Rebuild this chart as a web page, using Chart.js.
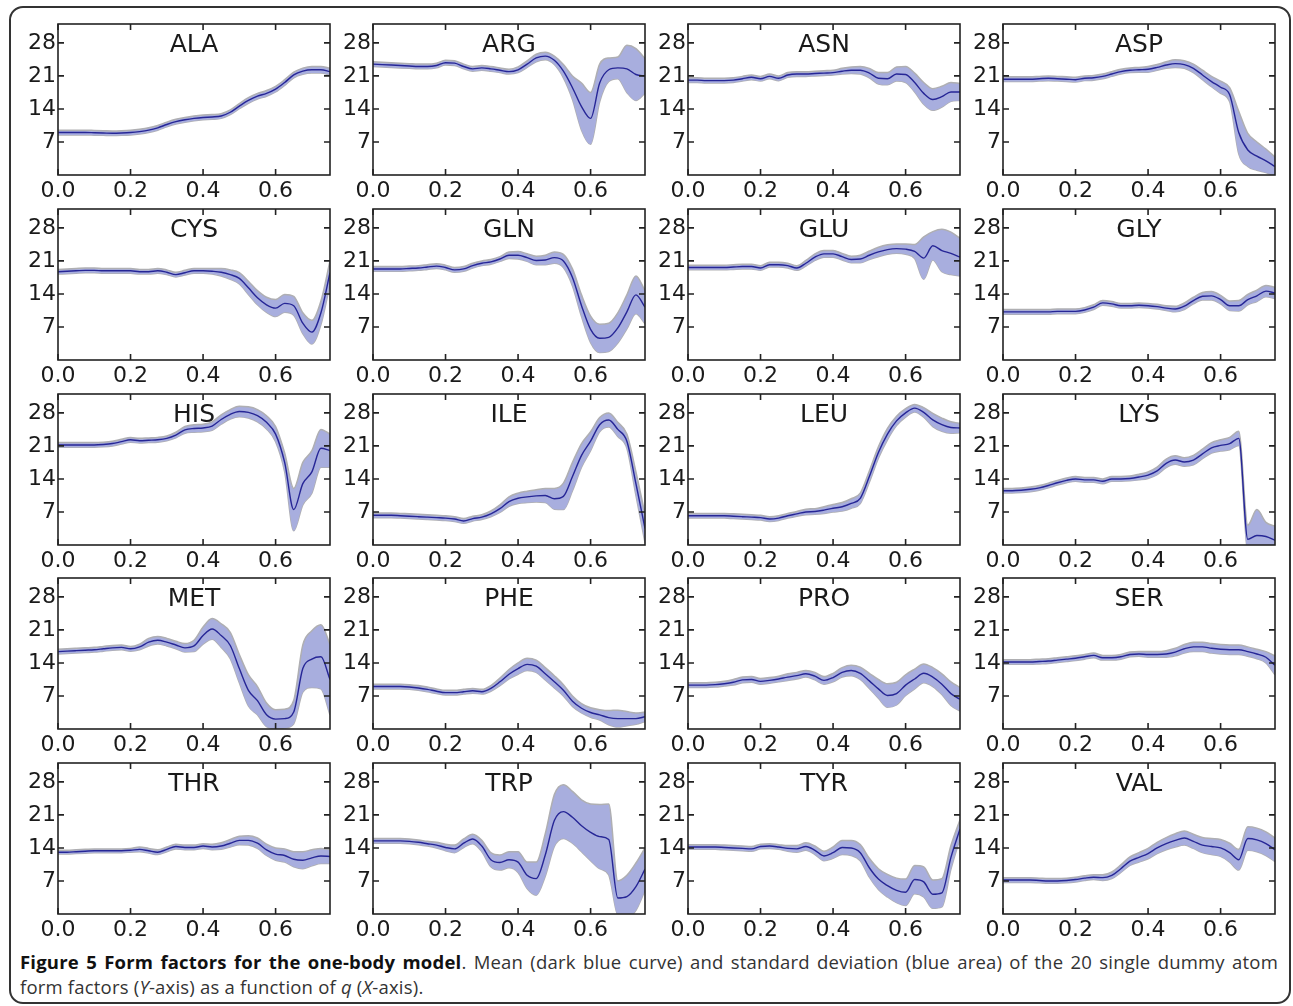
<!DOCTYPE html>
<html>
<head>
<meta charset="utf-8">
<title>Form factors for the one-body model</title>
<script src="https://cdn.jsdelivr.net/npm/chart.js@4.4.1/dist/chart.umd.min.js"></script>
<style>
    body { margin: 0; background: #fff; width: 1293px; height: 1006px; overflow: hidden; position: relative; }
    #frame { position: absolute; left: 9px; top: 6px; width: 1278px; height: 994px; border: 2px solid #333; border-radius: 14px; }
    .panel { position: absolute; }
    #caption { position: absolute; left: 20px; top: 949px; width: 1258px; font-family: "Open Sans", sans-serif; font-size: 18.5px; letter-spacing: 0.2px; line-height: 25px; color: #333; }
    #caption .line1 { text-align: justify; text-align-last: justify; }
    #caption b { color: #111; }
</style>
</head>
<body>
<div id="frame"></div>
<div id="panels"></div>
<div id="caption">
    <div class="line1"><b>Figure 5 Form factors for the one-body model</b>. Mean (dark blue curve) and standard deviation (blue area) of the 20 single dummy atom</div>
    <div>form factors (<i>Y</i>-axis) as a function of <i>q</i> (<i>X</i>-axis).</div>
</div>
<script>
// q grid shared by all panels
const qValues = [0, 0.025, 0.05, 0.075, 0.1, 0.125, 0.15, 0.175, 0.2, 0.225, 0.25, 0.275, 0.3, 0.325, 0.35, 0.375,
    0.4, 0.425, 0.45, 0.475, 0.5, 0.525, 0.55, 0.575, 0.6, 0.625, 0.65, 0.675, 0.7, 0.725, 0.75];
const xTickValues = [0, 0.2, 0.4, 0.6];
const yTickValues = [7, 14, 21, 28];
const residues = ['ALA', 'ARG', 'ASN', 'ASP', 'CYS', 'GLN', 'GLU', 'GLY', 'HIS', 'ILE',
    'LEU', 'LYS', 'MET', 'PHE', 'PRO', 'SER', 'THR', 'TRP', 'TYR', 'VAL'];

// mean form factor and standard deviation
const alaMean = [9.0, 9.0, 9.0, 9.0, 8.95, 8.9, 8.85, 8.9, 9.0, 9.2, 9.5, 10.0, 10.7, 11.3, 11.7, 12.0, 12.2, 12.3, 12.5, 13.3, 14.6, 15.8, 16.7, 17.3, 18.2, 19.6, 21.2, 22.0, 22.3, 22.3, 21.9];
const alaSd = [0.5, 0.5, 0.5, 0.5, 0.5, 0.5, 0.5, 0.5, 0.5, 0.5, 0.5, 0.5, 0.5, 0.5, 0.5, 0.5, 0.5, 0.5, 0.5, 0.5, 0.55, 0.6, 0.6, 0.6, 0.6, 0.6, 0.6, 0.65, 0.7, 0.7, 0.7];
const argMean = [23.5, 23.4, 23.3, 23.2, 23.1, 23.0, 23.0, 23.2, 23.8, 23.7, 23.0, 22.5, 22.7, 22.5, 22.2, 21.9, 22.3, 23.5, 24.8, 25.2, 24.3, 22.0, 18.5, 14.5, 12.0, 19.5, 22.3, 22.7, 22.5, 21.3, 21.0];
const argSd = [0.5, 0.5, 0.5, 0.5, 0.5, 0.5, 0.5, 0.5, 0.5, 0.5, 0.5, 0.5, 0.5, 0.5, 0.5, 0.5, 0.6, 0.7, 0.8, 0.8, 0.9, 1.4, 2.5, 5.0, 5.5, 4.0, 2.5, 2.3, 5.0, 5.5, 3.7];
const asnMean = [20.1, 20.1, 20.0, 20.0, 20.0, 20.1, 20.4, 20.7, 20.4, 20.9, 20.5, 21.2, 21.4, 21.4, 21.5, 21.6, 21.7, 22.0, 22.2, 22.2, 21.6, 20.5, 20.4, 21.4, 21.3, 19.6, 17.3, 16.0, 16.6, 17.6, 17.6];
const asnSd = [0.5, 0.5, 0.5, 0.5, 0.5, 0.5, 0.5, 0.5, 0.5, 0.5, 0.5, 0.5, 0.5, 0.5, 0.5, 0.5, 0.5, 0.6, 0.7, 0.8, 1.0, 1.2, 1.3, 1.5, 1.7, 2.0, 2.3, 2.3, 2.2, 2.0, 1.8];
const aspMean = [20.3, 20.3, 20.3, 20.3, 20.4, 20.5, 20.4, 20.3, 20.2, 20.5, 20.6, 20.9, 21.4, 21.9, 22.2, 22.3, 22.4, 22.8, 23.3, 23.6, 23.4, 22.6, 21.2, 19.8, 18.6, 17.0, 9.0, 5.3, 4.0, 3.0, 1.8];
const aspSd = [0.5, 0.5, 0.5, 0.5, 0.5, 0.5, 0.5, 0.5, 0.5, 0.5, 0.5, 0.5, 0.5, 0.5, 0.5, 0.5, 0.6, 0.6, 0.7, 0.8, 0.8, 0.9, 1.0, 1.1, 1.3, 1.5, 4.5, 3.5, 3.0, 2.5, 2.0];
const cysMean = [18.7, 18.8, 18.9, 19.0, 19.0, 18.9, 18.9, 18.9, 18.9, 18.7, 18.7, 18.9, 18.6, 18.1, 18.5, 18.9, 18.9, 18.8, 18.6, 18.1, 17.3, 15.3, 13.2, 11.7, 11.0, 12.0, 11.5, 7.8, 5.9, 10.0, 18.5];
const cysSd = [0.5, 0.5, 0.5, 0.5, 0.5, 0.5, 0.5, 0.5, 0.5, 0.5, 0.5, 0.5, 0.5, 0.5, 0.5, 0.5, 0.5, 0.6, 0.8, 1.0, 1.2, 1.4, 1.5, 1.6, 1.8, 1.9, 2.0, 2.2, 2.5, 2.5, 2.5];
const glnMean = [19.3, 19.3, 19.3, 19.3, 19.4, 19.5, 19.7, 19.9, 19.6, 19.1, 19.3, 20.0, 20.5, 20.8, 21.4, 22.2, 22.2, 21.7, 21.1, 21.2, 21.7, 21.0, 17.5, 11.5, 6.5, 4.6, 4.8, 6.8, 10.2, 13.8, 11.2];
const glnSd = [0.5, 0.5, 0.5, 0.5, 0.5, 0.5, 0.5, 0.5, 0.5, 0.5, 0.5, 0.5, 0.5, 0.5, 0.5, 0.7, 0.8, 0.8, 0.9, 1.0, 1.2, 1.4, 1.8, 2.3, 2.8, 3.0, 3.0, 3.2, 3.6, 4.0, 3.5];
const gluMean = [19.6, 19.6, 19.6, 19.6, 19.6, 19.7, 19.8, 19.8, 19.5, 20.2, 20.2, 20.0, 19.5, 20.5, 21.8, 22.5, 22.5, 21.9, 21.3, 21.4, 22.2, 22.9, 23.4, 23.6, 23.5, 23.0, 21.6, 24.2, 23.2, 22.6, 21.8];
const gluSd = [0.5, 0.5, 0.5, 0.5, 0.5, 0.5, 0.5, 0.5, 0.5, 0.5, 0.5, 0.5, 0.5, 0.6, 0.7, 0.7, 0.7, 0.7, 0.7, 0.8, 0.9, 1.0, 1.0, 1.0, 1.1, 1.5, 4.5, 3.0, 4.5, 4.5, 4.0];
const glyMean = [10.2, 10.2, 10.2, 10.2, 10.2, 10.2, 10.3, 10.3, 10.3, 10.6, 11.2, 12.1, 11.9, 11.5, 11.5, 11.6, 11.5, 11.3, 11.0, 10.8, 11.4, 12.6, 13.5, 13.6, 12.8, 11.5, 11.5, 12.8, 13.6, 14.6, 14.2];
const glySd = [0.5, 0.5, 0.5, 0.5, 0.5, 0.5, 0.5, 0.5, 0.5, 0.5, 0.5, 0.5, 0.5, 0.5, 0.5, 0.5, 0.5, 0.5, 0.5, 0.6, 0.7, 0.7, 0.8, 0.9, 0.9, 1.0, 1.1, 1.1, 1.2, 1.2, 1.2];
const hisMean = [21.2, 21.2, 21.2, 21.2, 21.2, 21.3, 21.5, 21.9, 22.3, 22.1, 22.2, 22.3, 22.6, 23.3, 24.4, 24.7, 24.8, 25.2, 26.6, 27.7, 28.3, 28.1, 27.4, 26.0, 23.5, 17.5, 7.5, 13.0, 15.5, 20.5, 20.0];
const hisSd = [0.5, 0.5, 0.5, 0.5, 0.5, 0.5, 0.5, 0.5, 0.5, 0.5, 0.5, 0.5, 0.5, 0.6, 0.7, 0.8, 0.8, 0.9, 1.0, 1.0, 1.1, 1.2, 1.3, 1.4, 1.6, 2.0, 4.5, 4.5, 4.5, 4.0, 3.5];
const ileMean = [6.3, 6.3, 6.3, 6.2, 6.1, 6.0, 5.9, 5.8, 5.7, 5.5, 5.1, 5.6, 5.9, 6.6, 7.7, 9.2, 9.9, 10.2, 10.4, 10.5, 9.8, 10.3, 14.5, 19.0, 22.0, 25.5, 26.5, 24.5, 22.0, 13.0, 3.5];
const ileSd = [0.5, 0.5, 0.5, 0.5, 0.5, 0.5, 0.5, 0.5, 0.5, 0.5, 0.5, 0.5, 0.5, 0.6, 0.8, 1.0, 1.1, 1.2, 1.3, 1.5, 2.2, 2.8, 3.0, 2.5, 2.0, 1.5, 1.5, 1.5, 1.5, 2.5, 3.0];
const leuMean = [6.2, 6.2, 6.2, 6.2, 6.2, 6.1, 6.0, 5.9, 5.8, 5.5, 5.7, 6.2, 6.6, 7.0, 7.1, 7.4, 7.8, 8.1, 8.8, 9.9, 14.5, 19.6, 23.5, 26.3, 28.0, 29.0, 28.1, 26.5, 25.5, 24.9, 24.8];
const leuSd = [0.5, 0.5, 0.5, 0.5, 0.5, 0.5, 0.5, 0.5, 0.5, 0.5, 0.5, 0.5, 0.5, 0.6, 0.6, 0.7, 0.8, 0.9, 1.0, 1.1, 1.2, 1.2, 1.2, 1.0, 0.9, 0.8, 1.0, 1.4, 1.4, 1.2, 1.0];
const lysMean = [11.5, 11.5, 11.6, 11.8, 12.1, 12.6, 13.2, 13.7, 14.0, 13.8, 13.8, 13.5, 14.0, 14.0, 14.1, 14.4, 14.8, 15.7, 17.3, 18.0, 17.6, 18.0, 19.3, 20.6, 21.1, 21.5, 22.6, 1.2, 2.0, 1.8, 1.0];
const lysSd = [0.5, 0.5, 0.5, 0.5, 0.5, 0.5, 0.5, 0.5, 0.5, 0.5, 0.5, 0.5, 0.5, 0.5, 0.5, 0.6, 0.7, 0.8, 0.9, 0.9, 0.9, 1.0, 1.0, 1.1, 1.2, 1.3, 1.5, 3.0, 5.5, 3.0, 3.0];
const metMean = [16.4, 16.5, 16.6, 16.7, 16.8, 17.0, 17.2, 17.3, 17.0, 17.4, 18.4, 18.8, 18.4, 17.8, 17.2, 17.6, 19.8, 21.2, 19.8, 17.7, 12.8, 8.2, 6.0, 3.0, 2.1, 2.2, 3.6, 12.8, 14.8, 15.3, 10.5];
const metSd = [0.5, 0.5, 0.5, 0.5, 0.5, 0.5, 0.5, 0.5, 0.5, 0.6, 0.8, 0.8, 0.8, 0.8, 0.9, 1.2, 1.8, 2.2, 2.5, 2.8, 3.0, 3.3, 3.0, 2.5, 2.0, 2.0, 2.5, 5.0, 6.0, 6.8, 7.5];
const pheMean = [9.0, 9.0, 9.0, 9.0, 8.9, 8.7, 8.4, 8.0, 7.7, 7.7, 7.9, 8.1, 7.9, 8.6, 10.0, 11.6, 12.8, 13.7, 13.3, 11.7, 10.0, 8.2, 5.9, 4.4, 3.5, 3.0, 2.4, 2.2, 2.2, 2.2, 2.6];
const pheSd = [0.5, 0.5, 0.5, 0.5, 0.5, 0.5, 0.5, 0.5, 0.5, 0.5, 0.5, 0.5, 0.5, 0.6, 0.8, 1.0, 1.2, 1.3, 1.3, 1.3, 1.3, 1.2, 1.1, 1.0, 1.0, 1.1, 1.5, 1.8, 1.5, 1.2, 1.0];
const proMean = [9.3, 9.3, 9.3, 9.4, 9.6, 9.9, 10.4, 10.5, 10.1, 10.3, 10.6, 11.0, 11.3, 11.7, 11.2, 10.3, 10.9, 12.0, 12.4, 11.8, 10.2, 8.5, 7.1, 7.5, 9.3, 10.6, 11.8, 11.0, 9.5, 7.5, 6.3];
const proSd = [0.5, 0.5, 0.5, 0.5, 0.5, 0.6, 0.6, 0.6, 0.6, 0.6, 0.6, 0.7, 0.7, 0.7, 0.8, 0.8, 0.9, 1.0, 1.1, 1.3, 1.6, 2.0, 2.5, 2.4, 2.2, 2.1, 2.0, 2.0, 2.2, 2.5, 2.5];
const serMean = [14.2, 14.2, 14.2, 14.2, 14.3, 14.4, 14.6, 14.8, 15.0, 15.3, 15.6, 15.1, 15.1, 15.3, 15.8, 15.9, 15.8, 15.8, 15.9, 16.3, 17.0, 17.4, 17.4, 17.1, 16.9, 16.8, 16.8, 16.4, 15.9, 15.2, 13.5];
const serSd = [0.5, 0.5, 0.5, 0.5, 0.5, 0.5, 0.5, 0.5, 0.5, 0.5, 0.5, 0.5, 0.5, 0.5, 0.5, 0.5, 0.6, 0.6, 0.7, 0.8, 0.9, 1.0, 1.0, 1.0, 1.0, 1.0, 1.0, 1.0, 1.0, 1.2, 2.0];
const thrMean = [13.1, 13.1, 13.2, 13.3, 13.4, 13.4, 13.4, 13.4, 13.5, 13.7, 13.4, 13.1, 13.7, 14.3, 14.1, 14.1, 14.4, 14.2, 14.4, 15.0, 15.6, 15.6, 15.0, 13.6, 12.7, 12.4, 11.6, 11.4, 11.9, 12.3, 12.2];
const thrSd = [0.4, 0.4, 0.4, 0.4, 0.4, 0.4, 0.4, 0.4, 0.4, 0.5, 0.5, 0.5, 0.5, 0.5, 0.5, 0.5, 0.5, 0.6, 0.7, 0.8, 0.9, 1.0, 1.1, 1.2, 1.3, 1.4, 1.6, 1.8, 1.7, 1.6, 1.5];
const trpMean = [15.5, 15.5, 15.5, 15.5, 15.4, 15.2, 14.9, 14.6, 14.1, 13.8, 15.0, 15.9, 14.4, 11.5, 10.9, 11.5, 11.0, 8.2, 7.5, 12.5, 19.8, 21.7, 20.5, 18.7, 17.3, 16.4, 15.8, 3.4, 3.7, 5.8, 9.5];
const trpSd = [0.5, 0.5, 0.5, 0.5, 0.5, 0.5, 0.5, 0.6, 0.7, 0.8, 0.9, 1.0, 1.2, 1.5, 1.6, 1.7, 2.2, 2.8, 3.5, 4.5, 5.5, 5.7, 5.5, 5.5, 6.0, 6.8, 7.5, 3.6, 4.5, 5.0, 4.5];
const tyrMean = [14.2, 14.2, 14.2, 14.2, 14.1, 14.0, 13.9, 13.8, 14.3, 14.4, 14.2, 13.9, 13.8, 14.3, 13.5, 12.3, 13.0, 14.1, 14.0, 13.0, 9.8, 7.4, 6.0, 5.0, 4.6, 7.3, 6.8, 4.2, 4.5, 12.0, 18.0];
const tyrSd = [0.5, 0.5, 0.5, 0.5, 0.5, 0.5, 0.5, 0.5, 0.5, 0.5, 0.5, 0.6, 0.7, 0.8, 0.9, 1.0, 1.2, 1.5, 1.6, 1.7, 2.0, 2.2, 2.4, 2.6, 2.8, 3.0, 3.2, 3.0, 3.0, 2.5, 2.0];
const valMean = [7.2, 7.2, 7.2, 7.2, 7.1, 7.0, 7.0, 7.1, 7.3, 7.6, 7.8, 7.7, 8.2, 9.6, 11.2, 12.0, 12.8, 14.0, 14.9, 15.6, 16.1, 15.4, 14.6, 14.3, 14.0, 13.0, 11.5, 16.0, 15.7, 14.9, 13.6];
const valSd = [0.5, 0.5, 0.5, 0.5, 0.5, 0.5, 0.5, 0.5, 0.5, 0.5, 0.5, 0.6, 0.7, 0.8, 0.9, 1.0, 1.1, 1.2, 1.3, 1.4, 1.5, 1.5, 1.6, 1.7, 1.8, 2.0, 2.2, 2.5, 2.5, 2.5, 2.5];

const meanSeries = [alaMean, argMean, asnMean, aspMean, cysMean, glnMean, gluMean, glyMean, hisMean, ileMean,
    leuMean, lysMean, metMean, pheMean, proMean, serMean, thrMean, trpMean, tyrMean, valMean];
const sdSeries = [alaSd, argSd, asnSd, aspSd, cysSd, glnSd, gluSd, glySd, hisSd, ileSd,
    leuSd, lysSd, metSd, pheSd, proSd, serSd, thrSd, trpSd, tyrSd, valSd];

const lineColor = 'rgb(38, 38, 150)';
const bandColor = 'rgb(168, 174, 222)';
const edgeColor = 'rgb(175, 175, 178)';
const textColor = '#1a1a1a';
const tickFont = { family: '"DejaVu Sans"', size: 22 };

// frame, inward ticks on all four sides, and the residue name inside the plot
const panelFrame = {
    id: 'panelFrame',
    afterDatasetsDraw(chart, args, opts) {
        const { ctx, chartArea: a, scales: { x, y } } = chart;
        ctx.save();
        ctx.strokeStyle = '#222';
        ctx.lineWidth = 1.6;
        ctx.beginPath();
        x.ticks.forEach(t => {
            const px = x.getPixelForValue(t.value);
            ctx.moveTo(px, a.bottom); ctx.lineTo(px, a.bottom - 6);
            ctx.moveTo(px, a.top); ctx.lineTo(px, a.top + 6);
        });
        y.ticks.forEach(t => {
            const py = y.getPixelForValue(t.value);
            ctx.moveTo(a.left, py); ctx.lineTo(a.left + 6, py);
            ctx.moveTo(a.right, py); ctx.lineTo(a.right - 6, py);
        });
        ctx.stroke();
        ctx.strokeRect(a.left, a.top, a.right - a.left, a.bottom - a.top);
        ctx.fillStyle = textColor;
        ctx.font = '25px "DejaVu Sans"';
        ctx.textAlign = 'center';
        ctx.textBaseline = 'alphabetic';
        ctx.fillText(opts.title, (a.left + a.right) / 2, a.top + 27.5);
        ctx.restore();
    }
};

function makePanel(index) {
    const col = index % 4;
    const row = Math.floor(index / 4);
    const plotLeft = Math.round(57.5 + col * 315.2);
    const plotTop = Math.round(24 + row * 184.75);

    const canvas = document.createElement('canvas');
    canvas.className = 'panel';
    canvas.width = 330;
    canvas.height = 187;
    canvas.style.left = (plotLeft - 48) + 'px';
    canvas.style.top = (plotTop - 6) + 'px';
    document.getElementById('panels').appendChild(canvas);

    const mean = meanSeries[index];
    const sd = sdSeries[index];
    const common = { pointRadius: 0, clip: 0, cubicInterpolationMode: 'monotone' };

    new Chart(canvas, {
        type: 'line',
        data: {
            datasets: [
                { ...common, data: qValues.map((q, i) => ({ x: q, y: mean[i] })), borderColor: lineColor, borderWidth: 1.4, fill: false },
                { ...common, data: qValues.map((q, i) => ({ x: q, y: mean[i] + sd[i] })), borderColor: edgeColor, borderWidth: 1.5, backgroundColor: bandColor, fill: '+1' },
                { ...common, data: qValues.map((q, i) => ({ x: q, y: mean[i] - sd[i] })), borderColor: edgeColor, borderWidth: 1.5, fill: false }
            ]
        },
        options: {
            responsive: false,
            animation: false,
            events: [],
            layout: { padding: { top: 6, right: 10, left: 0, bottom: 0 } },
            plugins: {
                legend: { display: false },
                tooltip: { enabled: false },
                panelFrame: { title: residues[index] }
            },
            scales: {
                x: {
                    type: 'linear',
                    min: 0,
                    max: 0.75,
                    afterBuildTicks: s => { s.ticks = xTickValues.map(v => ({ value: v })); },
                    afterFit: s => { s.height = 30; s.paddingLeft = 0; s.paddingRight = 0; },
                    grid: { display: false, drawTicks: false },
                    border: { display: false },
                    ticks: { font: tickFont, color: textColor, padding: 3, maxRotation: 0, autoSkip: false, callback: v => v.toFixed(1) }
                },
                y: {
                    type: 'linear',
                    min: 0,
                    max: 32,
                    afterBuildTicks: s => { s.ticks = yTickValues.map(v => ({ value: v })); },
                    afterFit: s => { s.width = 48; s.paddingTop = 0; s.paddingBottom = 0; },
                    grid: { display: false, drawTicks: false },
                    border: { display: false },
                    ticks: { font: tickFont, color: textColor, padding: 2, autoSkip: false, callback: v => String(v) }
                }
            }
        },
        plugins: [panelFrame]
    });
}

residues.forEach((name, i) => makePanel(i));
</script>
</body>
</html>
